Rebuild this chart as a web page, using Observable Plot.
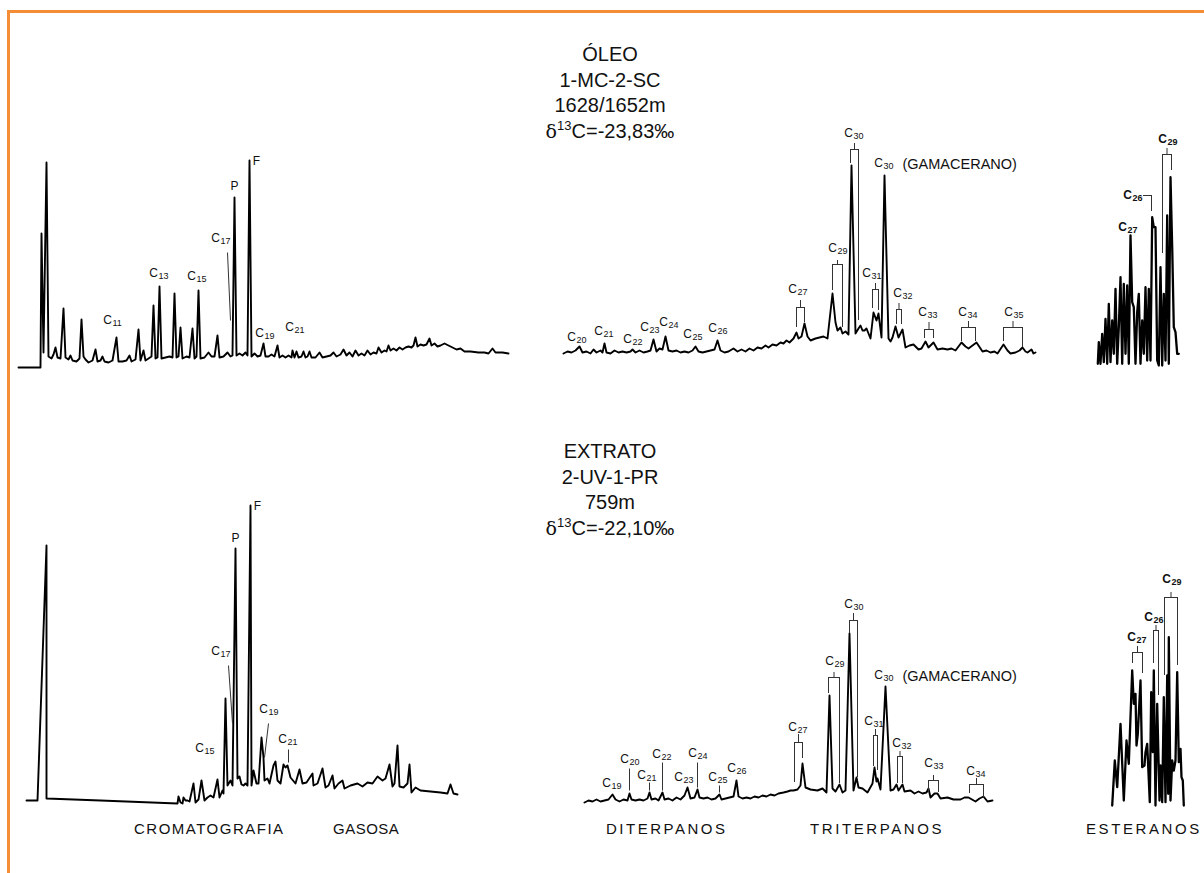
<!DOCTYPE html>
<html><head><meta charset="utf-8">
<script src="https://cdn.jsdelivr.net/npm/d3@7"></script>
<script src="https://cdn.jsdelivr.net/npm/@observablehq/plot@0.6"></script>
<style>
html,body{margin:0;padding:0;background:#fff;}
#wrap{position:relative;width:1204px;height:873px;overflow:hidden;font-family:Arial,"Liberation Sans",sans-serif;color:#111;}
#frame{position:absolute;left:7px;top:10px;width:1300px;height:1000px;border-top:3px solid #f58d36;border-left:3px solid #f58d36;}
.title{position:absolute;width:260px;text-align:center;font-size:20px;line-height:25.5px;}
.title .d{font-family:"DejaVu Serif","Liberation Serif",serif;font-size:19px;}
.title sup{font-size:13px;vertical-align:0;position:relative;top:-8px;}
.panel{position:absolute;}
.cat{position:absolute;font-size:15px;line-height:18px;white-space:nowrap;}
</style></head>
<body><div id="wrap"><div id="frame"></div>
<div class="title" style="left:480px;top:42px">ÓLEO<br>1-MC-2-SC<br>1628/1652m<br><span class="d">δ</span><sup>13</sup>C=-23,83‰</div>
<div class="title" style="left:480px;top:439px">EXTRATO<br>2-UV-1-PR<br>759m<br><span class="d">δ</span><sup>13</sup>C=-22,10‰</div>
</div>
<script>
// ---------- DATA (x = retention position, y = detector response, arbitrary units) ----------
const oilGcTrace = [[8,3],[30,3],[31,137],[33,18],[36,208],[38,14],[41,12],[43,16],[45,23],[47,13],[50,12],[53,62],[55,13],[58,11],[60,15],[62,10],[66,9],[69,12],[71,51],[73,14],[75,11],[78,8],[82,10],[85,21],[87,9],[90,10],[92,14],[94,9],[98,8],[102,10],[106,33],[108,9],[112,9],[116,10],[119,15],[121,9],[125,11],[128,41],[130,10],[133,20],[135,10],[138,12],[141,14],[143,65],[145,12],[147,13],[149,84],[151,12],[155,13],[159,14],[162,13],[164,77],[166,13],[168,14],[170,43],[172,12],[176,14],[179,13],[182,42],[184,12],[186,14],[188,80],[190,12],[194,13],[198,18],[201,14],[204,14],[207,35],[209,13],[213,14],[217,18],[220,14],[222,15],[224,173],[226,15],[229,17],[232,15],[235,18],[237,15],[239,210],[241,14],[244,17],[247,14],[250,15],[253,27],[255,14],[258,14],[261,16],[264,14],[267,25],[269,13],[272,15],[275,13],[278,15],[281,13],[282,20],[284,13],[286,19],[288,13],[291,14],[293,19],[295,13],[297,14],[299,19],[301,13],[305,13],[309,18],[312,13],[316,14],[320,15],[323,18],[326,14],[330,16],[333,21],[336,15],[339,18],[342,14],[345,20],[348,15],[351,17],[354,15],[357,20],[360,16],[363,18],[366,17],[368,23],[371,18],[374,20],[376,19],[378,25],[380,20],[383,22],[386,20],[389,23],[392,21],[395,23],[398,24],[401,23],[403,25],[405,33],[407,24],[410,26],[413,25],[416,26],[419,32],[421,25],[424,27],[427,24],[430,25],[434,27],[438,25],[442,23],[446,21],[450,22],[454,19],[460,19],[468,18],[474,18],[478,17],[482,22],[485,18],[492,18],[498,17]];
const oilGcLabels = [{n:"11",x:102,y:50},{n:"13",x:148,y:97},{n:"15",x:186,y:94},{n:"17",x:210,y:132},{n:"19",x:254,y:37},{n:"21",x:284,y:43}];
const oilGcMarkers = [{t:"P",x:224,y:184},{t:"F",x:246,y:209}];
const oilGcLeaders = [{x1:217,y1:118,x2:220,y2:50}];

const oilTerTrace = [[13,7],[17,9],[21,8],[25,10],[29,14],[32,8],[36,9],[40,7],[43,11],[46,8],[50,10],[52,8],[54,17],[56,8],[60,7],[64,10],[68,8],[72,9],[76,8],[80,9],[82,11],[85,8],[89,10],[93,8],[97,9],[100,10],[103,21],[106,9],[109,12],[112,11],[115,24],[118,10],[122,9],[126,10],[130,8],[134,9],[138,8],[142,10],[145,14],[148,9],[152,8],[156,9],[160,10],[164,11],[167,20],[170,10],[174,8],[178,9],[183,12],[187,9],[191,11],[195,9],[199,12],[203,10],[207,13],[211,12],[215,15],[218,13],[222,16],[226,15],[230,18],[233,17],[236,20],[239,18],[243,22],[246,28],[248,22],[251,24],[254,37],[257,24],[260,20],[265,22],[269,23],[273,24],[277,22],[279,40],[282,67],[285,38],[287,30],[290,33],[292,27],[295,29],[298,26],[301,195],[305,27],[308,32],[310,35],[312,30],[314,30],[316,32],[318,27],[320,22],[323,48],[326,40],[328,47],[331,23],[334,185],[338,22],[340,19],[342,23],[345,34],[348,23],[352,31],[355,13],[359,15],[363,16],[368,11],[371,12],[375,19],[378,13],[383,18],[387,11],[392,12],[397,11],[401,12],[405,10],[411,18],[415,14],[418,12],[422,15],[426,18],[432,9],[436,10],[440,8],[444,9],[447,7],[453,16],[457,10],[460,7],[465,8],[469,10],[472,13],[475,9],[477,8],[481,11],[483,7],[485,8]];
const oilTerLabels = [{n:"20",x:26,y:23},{n:"21",x:53,y:29},{n:"22",x:82,y:21},{n:"23",x:99,y:33},{n:"24",x:118,y:38},{n:"25",x:142,y:26},{n:"26",x:167,y:32},{n:"27",x:247,y:71},{n:"29",x:287,y:112},{n:"30",x:303,y:227},{n:"30",x:333,y:197},{n:"31",x:321,y:87},{n:"32",x:352,y:67},{n:"33",x:377,y:48},{n:"34",x:417,y:48},{n:"35",x:463,y:48}];
const oilTerNotes = [{t:"(GAMACERANO)",x:352,y:197}];
const oilTerBrackets = [{x1:246,x2:254,top:53,tick:60,lb:33,rb:38},{x1:282,x2:292,top:96,tick:100,lb:70,rb:33},{x1:300,x2:308,top:211,tick:217,lb:197,rb:40},{x1:322,x2:328,top:71,tick:77,lb:52,rb:50},{x1:346,x2:351,top:51,tick:57,lb:36,rb:36},{x1:374,x2:383,top:31,tick:38,lb:22,rb:22},{x1:411,x2:425,top:33,tick:39,lb:19,rb:19},{x1:453,x2:472,top:33,tick:39,lb:19,rb:13}];

const oilSterTrace = [[7.3,6.7],[8.3,28.3],[10,6.7],[11.7,36.7],[13.3,8.3],[15,51.7],[16.7,6.7],[18.3,66.7],[20,8.3],[21.7,50],[23.3,16.7],[25,81.7],[26.7,6.7],[28.3,43.3],[30,93.3],[31.7,6.7],[33.3,86.7],[35,16.7],[36.7,85],[38.3,6.7],[40,135],[41.7,68.3],[43.3,63.3],[45,6.7],[46.7,58.3],[48.3,76.7],[50,6.7],[51.7,50],[53.3,16.7],[55,83.3],[56.7,10],[58.3,81.7],[60,10],[61.7,153.3],[63.3,143.3],[65,143.3],[66.7,10],[68.3,5],[70,103.3],[71.7,5],[73.3,76.7],[75,10],[76.7,155],[78.3,6.7],[80,193.3],[81.7,123.3],[83.3,43.3],[85,38.3],[86.7,16.7],[88.3,16.7]];
const oilSterLabels = [{n:"27",x:37,y:143},{n:"26",x:42,y:175},{n:"29",x:77,y:231}];
const oilSterBrackets = [{x1:53,x2:61,top:175,tick:null,lb:null,rb:159},{x1:72,x2:81,top:216,tick:222,lb:117,rb:200}];

const extGcTrace = [[6,10],[17,10],[26,265],[26,12],[80,10],[157,7],[158,14],[160,8],[162,7],[163,13],[165,10],[167,10],[169,9],[173,27],[175,8],[178,11],[181,30],[184,10],[187,13],[190,15],[193,13],[197,31],[199,13],[202,20],[203,17],[205,112],[207,25],[210,30],[212,25],[215,262],[217,32],[219,34],[221,26],[223,25],[225,27],[227,25],[230,305],[231,25],[233,40],[236,27],[238,27],[241,73],[243,53],[244,30],[247,32],[249,27],[253,45],[255,49],[257,30],[260,27],[263,46],[265,43],[267,45],[270,33],[275,27],[279,41],[282,27],[286,28],[292,37],[293,25],[297,27],[302,42],[305,23],[308,25],[312,35],[314,22],[318,27],[322,30],[324,22],[330,25],[337,27],[342,24],[347,28],[352,27],[357,34],[362,30],[365,32],[369,46],[372,24],[374,27],[377,65],[379,24],[383,23],[387,27],[389,46],[391,18],[395,23],[400,20],[410,19],[420,18],[427,17],[430,26],[433,17],[437,16]];
const extGcLabels = [{n:"15",x:184,y:62},{n:"17",x:200,y:159},{n:"19",x:248,y:101},{n:"21",x:267,y:71}];
const extGcMarkers = [{t:"P",x:215,y:272},{t:"F",x:237,y:304}];
const extGcLeaders = [{x1:208,y1:145,x2:212,y2:87},{x1:248,y1:87,x2:244,y2:53},{x1:268,y1:61,x2:268,y2:48}];

const extTerTrace = [[14,8],[18,10],[22,9],[26,11],[30,9],[34,10],[38,11],[42,16],[45,11],[49,9],[53,11],[57,10],[59,17],[61,11],[65,10],[69,11],[73,10],[77,12],[79,18],[81,11],[85,12],[88,10],[92,18],[94,11],[98,12],[102,10],[106,13],[110,11],[114,15],[117,23],[120,12],[124,13],[127,21],[129,13],[133,12],[137,13],[141,11],[145,12],[149,16],[151,11],[155,12],[159,13],[163,14],[166,30],[168,14],[172,12],[176,13],[180,12],[184,14],[188,13],[192,15],[196,14],[200,16],[204,15],[208,17],[213,18],[217,19],[220,20],[223,20],[227,21],[230,25],[232,47],[235,23],[240,21],[247,20],[252,22],[256,18],[259,115],[262,22],[265,19],[269,26],[272,18],[275,20],[279,177],[283,20],[286,33],[288,23],[292,22],[297,18],[302,27],[304,43],[306,29],[307,32],[310,21],[315,124],[320,20],[323,21],[326,26],[328,20],[332,26],[334,19],[340,20],[344,17],[348,19],[352,17],[356,18],[358,22],[360,13],[364,17],[367,17],[370,12],[377,13],[383,11],[390,11],[394,13],[398,13],[405,9],[409,12],[413,14],[417,9],[422,10]];
const extTerLabels = [{n:"19",x:41,y:27},{n:"20",x:59,y:51},{n:"21",x:76,y:35},{n:"22",x:91,y:56},{n:"23",x:113,y:33},{n:"24",x:127,y:57},{n:"25",x:147,y:33},{n:"26",x:166,y:42},{n:"27",x:227,y:83},{n:"29",x:264,y:149},{n:"30",x:283,y:206},{n:"30",x:313,y:135},{n:"31",x:303,y:89},{n:"32",x:331,y:67},{n:"33",x:363,y:47},{n:"34",x:405,y:39}];
const extTerNotes = [{t:"(GAMACERANO)",x:332,y:135}];
const extTerLeaders = [{x1:59,y1:42,x2:59,y2:20},{x1:79,y1:28,x2:79,y2:20},{x1:92,y1:48,x2:92,y2:20},{x1:127,y1:48,x2:127,y2:23},{x1:149,y1:25,x2:149,y2:18}];
const extTerBrackets = [{x1:224,x2:232,top:68,tick:76,lb:28,rb:52},{x1:258,x2:269,top:133,tick:138,lb:117,rb:27},{x1:279,x2:287,top:190,tick:197,lb:177,rb:33},{x1:303,x2:307,top:75,tick:81,lb:44,rb:40},{x1:327,x2:332,top:54,tick:59,lb:27,rb:27},{x1:358,x2:368,top:30,tick:35,lb:18,rb:18},{x1:399,x2:413,top:26,tick:32,lb:17,rb:13}];

const extSterTrace = [[21.7,5],[24.3,50],[26.7,23.3],[30,86.7],[33.3,10],[36,70],[38.3,46.7],[41.7,140],[43.3,106.7],[45,116.7],[46,65],[47.3,76.7],[50,130],[51.7,43.3],[54,45],[55,58.3],[56.7,66.7],[59.3,8.3],[60.7,118.3],[62.3,58.3],[63.3,140],[65,5],[66.7,106.7],[69,10],[70,45],[71.7,8.3],[73.3,113.3],[75,8.3],[76.7,135],[77.7,16.7],[78.3,173.3],[80,10],[81.7,50],[83.3,40],[85,50],[86.7,138.3],[88.3,48.3],[90,61.7],[91,33.3],[92.3,30],[93.3,5]];
const extSterLabels = [{n:"27",x:46,y:173},{n:"26",x:63,y:193},{n:"29",x:81,y:231}];
const extSterBrackets = [{x1:42,x2:52,top:158,tick:164,lb:147,rb:137},{x1:63,x2:68,top:180,tick:185,lb:147,rb:115},{x1:74,x2:87,top:213,tick:218,lb:135,rb:145}];

const categories = ["CROMATOGRAFIA", "GASOSA", "DITERPANOS", "TRITERPANOS", "ESTERANOS"];

// ---------- LAYOUT ----------
const catLayout = {
  "CROMATOGRAFIA": {left:134, spacing:1.5},
  "GASOSA": {left:333, spacing:0.5},
  "DITERPANOS": {left:606, spacing:2.5},
  "TRITERPANOS": {left:810, spacing:2.6},
  "ESTERANOS": {left:1086, spacing:2.6}
};

// ---------- DRAWING ----------
const FONT = "Arial, 'Liberation Sans', sans-serif";
const INK = "#111";
function cLabels(data, bold) {
  const w = bold ? "bold" : "normal";
  return [
    Plot.text(data, {x:"x", y:"y", text:() => "C", textAnchor:"end", dx:-0.5, fontSize:12, fontWeight:w, fill:INK}),
    Plot.text(data, {x:"x", y:"y", text:"n", textAnchor:"start", dx:0, dy:3, fontSize:9, fontWeight:w, fill:INK})
  ];
}
function brackets(data) {
  return [
    Plot.ruleY(data, {y:"top", x1:"x1", x2:"x2", stroke:"#333", strokeWidth:1}),
    Plot.ruleX(data.filter(d => d.tick != null), {x:d => (d.x1 + d.x2) / 2, y1:"top", y2:"tick", stroke:"#333", strokeWidth:1}),
    Plot.ruleX(data.filter(d => d.lb != null), {x:"x1", y1:"top", y2:"lb", stroke:"#333", strokeWidth:1}),
    Plot.ruleX(data.filter(d => d.rb != null), {x:"x2", y1:"top", y2:"rb", stroke:"#333", strokeWidth:1})
  ];
}
function panel(left, top, width, height, marks, trace, sw) {
  const p = Plot.plot({
    width, height, margin:0,
    x:{domain:[0,width], axis:null},
    y:{domain:[0,height], axis:null},
    style:{background:"transparent", overflow:"visible", fontFamily:FONT},
    marks:[
      Plot.line(trace, {x:d => d[0], y:d => d[1], stroke:"#000", strokeWidth:sw || 1.9, strokeLinejoin:"round"}),
      ...marks
    ]
  });
  p.classList.add("panel");
  p.style.left = left + "px";
  p.style.top = top + "px";
  document.getElementById("wrap").appendChild(p);
}
const leaders = data => Plot.link(data, {x1:"x1", y1:"y1", x2:"x2", y2:"y2", stroke:"#333", strokeWidth:1});
const markers = data => Plot.text(data, {x:"x", y:"y", text:"t", fontSize:12, fill:INK});
const notes = data => Plot.text(data, {x:"x", y:"y", text:"t", textAnchor:"start", fontSize:14.5, fill:INK, dy:1});

panel(10, 140, 510, 230, [...cLabels(oilGcLabels), markers(oilGcMarkers), leaders(oilGcLeaders)], oilGcTrace);
panel(550, 120, 500, 240, [...brackets(oilTerBrackets), ...cLabels(oilTerLabels), notes(oilTerNotes)], oilTerTrace);
panel(1090, 130, 110, 240, [...brackets(oilSterBrackets), ...cLabels(oilSterLabels, true)], oilSterTrace, 2.3);
panel(20, 490, 450, 320, [...cLabels(extGcLabels), markers(extGcMarkers), leaders(extGcLeaders)], extGcTrace);
panel(570, 590, 450, 220, [...brackets(extTerBrackets), ...cLabels(extTerLabels), notes(extTerNotes), leaders(extTerLeaders)], extTerTrace);
panel(1090, 560, 114, 250, [...brackets(extSterBrackets), ...cLabels(extSterLabels, true)], extSterTrace, 2.3);

for (const c of categories) {
  const el = document.createElement("div");
  el.className = "cat";
  el.textContent = c;
  el.style.left = catLayout[c].left + "px";
  el.style.letterSpacing = catLayout[c].spacing + "px";
  el.style.top = "820px";
  document.getElementById("wrap").appendChild(el);
}
</script>
</body></html>
